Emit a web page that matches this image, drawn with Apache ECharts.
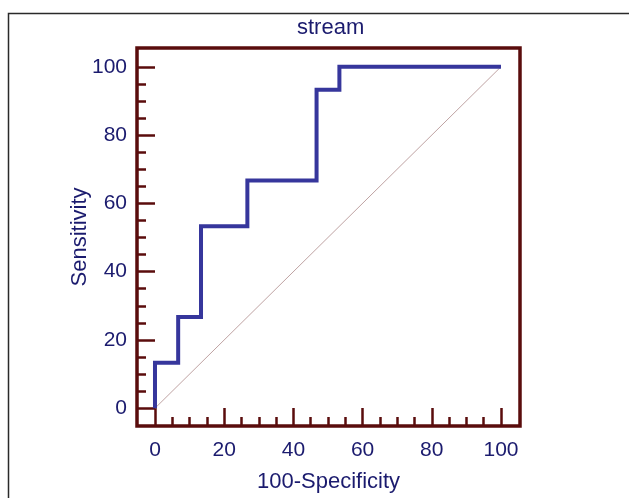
<!DOCTYPE html>
<html>
<head>
<meta charset="utf-8">
<script src="https://cdn.jsdelivr.net/npm/echarts@6/dist/echarts.min.js"></script>
<style>html,body{margin:0;padding:0;background:#fff;}#c{width:629px;height:498px;}</style>
</head>
<body>
<div id="c"></div>
<script>
// Data
const fpr = [0, 0, 6.7, 6.7, 13.3, 13.3, 26.7, 26.7, 46.7, 46.7, 53.3, 53.3, 100];
const tpr = [0, 13.3, 13.3, 26.7, 26.7, 53.3, 53.3, 66.7, 66.7, 93.3, 93.3, 100, 100];
const diagX = [0, 100];
const diagY = [0, 100];
const majorTicks = [0, 20, 40, 60, 80, 100];
const minorTicks = [5, 10, 15, 25, 30, 35, 45, 50, 55, 65, 70, 75, 85, 90, 95];
const titleText = 'stream';
const xName = '100-Specificity';
const yName = 'Sensitivity';

const navy = '#1b1b6e';
const maroon = '#5a0c0c';
const font = "'Liberation Sans', Arial, sans-serif";
const AMIN = -5.2, AMAX = 105.5;

function mkAxis(pos, major, name, nameGap, labelMargin) {
  const base = {
    type: 'value', min: AMIN, max: AMAX, position: pos,
    splitLine: { show: false }, axisLine: { show: false, onZero: false }
  };
  if (major) {
    return Object.assign(base, {
      name: name, nameLocation: 'middle', nameGap: nameGap, nameMoveOverlap: false,
      nameTextStyle: { color: navy, fontSize: 22, fontFamily: font },
      axisTick: { show: true, inside: true, length: 18, customValues: majorTicks,
        lineStyle: { color: maroon, width: 2.5 } },
      axisLabel: { show: true, customValues: majorTicks, color: navy, fontSize: 21,
        fontFamily: font, margin: labelMargin }
    });
  }
  return Object.assign(base, {
    axisTick: { show: true, inside: true, length: 9, customValues: minorTicks,
      lineStyle: { color: maroon, width: 2.5 } },
    axisLabel: { show: false }
  });
}

const chart = echarts.init(document.getElementById('c'), null, { renderer: 'canvas' });
chart.setOption({
  animation: false,
  backgroundColor: '#fff',
  title: {
    text: titleText, left: 292, top: 12,
    textStyle: { color: navy, fontSize: 22, fontWeight: 'normal', fontFamily: font }
  },
  grid: {
    left: 137, top: 48, right: 109, bottom: 70,
    show: true, borderColor: maroon, borderWidth: 3.5, backgroundColor: '#fff'
  },
  xAxis: [mkAxis('bottom', true, xName, 45, 14), mkAxis('bottom', false)],
  yAxis: [mkAxis('left', true, yName, 46, 10), mkAxis('left', false)],
  graphic: [{
    type: 'rect', z: -1,
    shape: { x: 8.5, y: 13.5, width: 700, height: 600 },
    style: { fill: 'none', stroke: '#2a2a2a', lineWidth: 1.5 }
  }],
  series: [
    {
      type: 'line', xAxisIndex: 0, yAxisIndex: 0, showSymbol: false, silent: true,
      data: diagX.map((x, i) => [x, diagY[i]]),
      lineStyle: { color: '#bfa3a3', width: 1 }, z: 2
    },
    {
      type: 'line', xAxisIndex: 0, yAxisIndex: 0, showSymbol: false, silent: true,
      data: fpr.map((x, i) => [x, tpr[i]]),
      lineStyle: { color: '#36369c', width: 4, join: 'miter', cap: 'butt' }, z: 3
    }
  ]
});
</script>
</body>
</html>
